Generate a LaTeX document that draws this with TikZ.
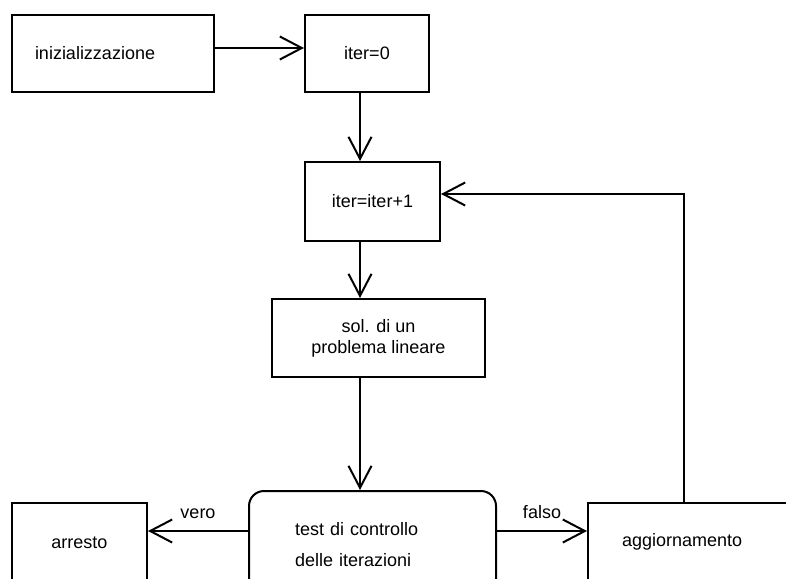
\documentclass[tikz,border=0pt]{standalone}
\usepackage{fontspec}
\setmainfont{Liberation Sans}
\usetikzlibrary{arrows.meta,positioning}

\begin{document}
\begin{tikzpicture}[x=0.5pt, y=-0.5pt, line width=1pt, every node/.style={font=\fontsize{9}{10.5}\selectfont}, box/.style={draw, line width=1pt, minimum height=38.5pt, inner sep=0pt, align=center}, flow/.style={-{Straight Barb[length=11pt,width=11.5pt]}}]
\useasboundingbox (0,0) rectangle (786,578);
\clip (0,0) rectangle (786,578);
\node[box, text width=78pt, inner xsep=11.5pt, align=left] (init) at (113,53.5) {inizializzazione};
\node[box, minimum width=62pt, right=44.5pt of init] (iterz) {iter=0};
\node[box, minimum width=67.5pt, minimum height=39.5pt, below=34pt of iterz, xshift=2.75pt] (iterp) {iter=iter+1};
\node[box, minimum width=106.5pt, minimum height=39pt, below=28pt of iterp, xshift=3pt] (sol) {sol. di un\\problema lineare};
\node[box, rounded corners=7.5pt, minimum height=53.5pt, text width=77.5pt, inner xsep=23pt, align=left, below=56pt of sol, xshift=-3pt] (test) {test di controllo\\[5pt]delle iterazioni};
\node[box, minimum width=67.5pt, minimum height=39.5pt, left=50pt of test, yshift=1pt] (stop) {arresto};
\node[box, text width=96pt, inner xsep=17pt, align=left, right=45pt of test, yshift=1.5pt] (upd) {aggiornamento};
\coordinate (spine) at (360,0);
\coordinate (turn) at (684,194);
\coordinate (side) at (0,531);
\draw[flow] ([yshift=2.75pt]init.east) -- ([yshift=2.75pt]iterz.west);
\draw[flow] (iterz.south -| spine) -- (iterp.north -| spine);
\draw[flow] (iterp.south -| spine) -- (sol.north -| spine);
\draw[flow] (sol.south -| spine) -- (test.north -| spine);
\draw[flow] (test.west |- side) -- (stop.east |- side) node[midway, above=2.5pt] {vero};
\draw[flow] (test.east |- side) -- (upd.west |- side) node[midway, above=2.5pt] {falso};
\draw[flow] (upd.north -| turn) -- (turn) -- (turn -| iterp.east);
\end{tikzpicture}
\end{document}
